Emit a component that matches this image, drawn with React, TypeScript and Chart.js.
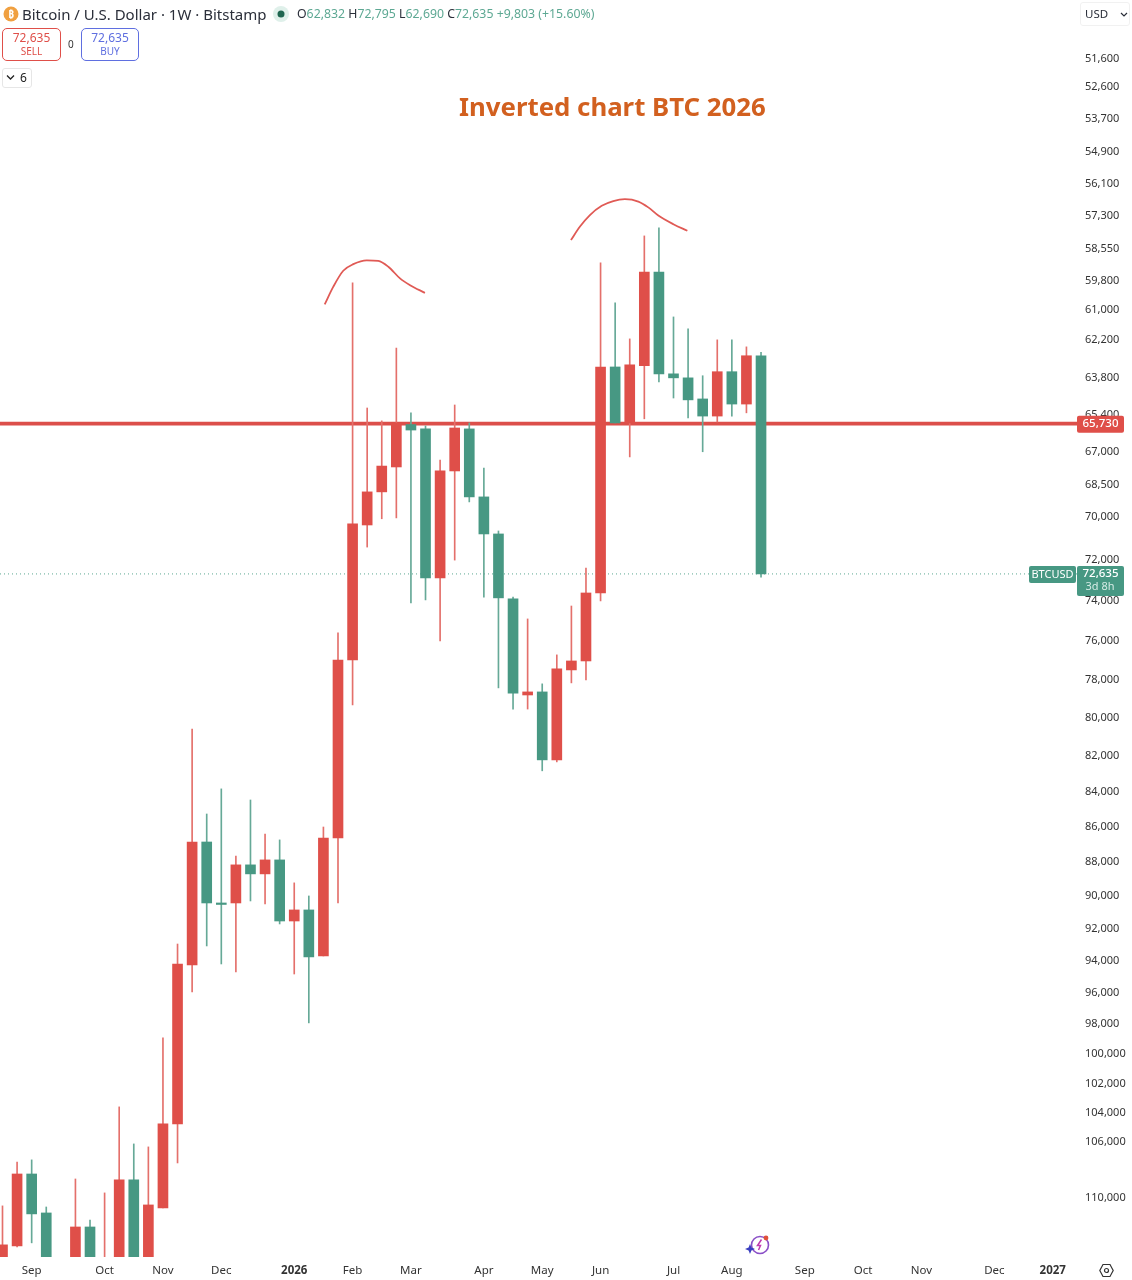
import React, { useEffect, useRef } from "react";
import { Chart, registerables } from "chart.js";

Chart.register(...registerables);

const FONT = '"Noto Sans", sans-serif';
const RED = "#df4f49";
const GREEN = "#479883";
const RED_WICK = "#e4706b";
const GREEN_WICK = "#66a997";

// Weekly BTCUSD candles, first week = 18 Aug 2025
const opens = [115000,113530,108230,111070,115000,116000,112110,118000,115000,108660,115200,110700,104690,94190,86800,90390,90390,88130,88660,87840,91480,90810,93630,86570,76910,70310,68780,67650,65770,65960,72830,67830,65960,69010,70730,73850,78720,78560,82190,77420,76960,73560,63300,65700,63250,59430,63590,63760,64660,65400,63500,64880,62832];
const highs = [115600,113605,113300,115800,117000,116400,116500,119000,116000,116000,116200,110700,107440,95890,93010,94130,94630,90270,90450,91660,94760,97890,93630,90390,79240,71350,70020,69980,74050,73900,75940,71970,69240,73760,78350,79460,79460,82790,82300,78090,77940,73950,65700,67200,65520,63930,64620,65480,66970,65660,65400,65260,72795];
const lows = [110550,107370,107220,110630,114700,108590,111590,109600,103510,106090,106300,98870,92890,80520,85200,83790,87610,84410,86340,86680,89190,89970,85940,75540,59860,65050,65610,62510,65260,65830,67340,64920,65700,67700,70590,73760,74840,78140,76650,74200,72350,59070,60660,62130,58020,57710,61230,61720,63670,62170,62170,62460,62690];
const closes = [113450,108230,111140,115200,116400,112110,116000,115000,108660,115200,110480,104690,94130,86800,90390,90450,88130,88660,87840,91480,90810,93690,86570,76910,70260,68780,67610,65700,66010,72830,67830,65920,69010,70730,73800,78620,78560,82190,77370,76960,73560,63300,65700,63210,59430,63590,63760,64700,65400,63500,64880,62830,72635];

const xMin = -0.171;
const xMax = 73.73;
const priceMin = 49600;
const priceMax = 114370;

const supportLevel = 65730;
const lastPrice = 72635;

const yTicks = [51600,52600,53700,54900,56100,57300,58550,59800,61000,62200,63800,65400,67000,68500,70000,72000,74000,76000,78000,80000,82000,84000,86000,88000,90000,92000,94000,96000,98000,100000,102000,104000,106000,110000];
const xTickIndex = [2,7,11,15,20,24,28,33,37,41,46,50,55,59,63,68,72];
const xTickLabels = ["Sep","Oct","Nov","Dec","2026","Feb","Mar","Apr","May","Jun","Jul","Aug","Sep","Oct","Nov","Dec","2027"];

const arc1X = [22.09,22.68,23.36,24.05,24.97,25.76,26.45,27.25,27.94,28.96];
const arc1Y = [60720,60010,59380,59120,58970,58990,59220,59680,59950,60260];
const arc2X = [38.97,39.59,40.27,41.08,41.87,42.67,43.59,44.27,44.96,45.99,46.95];
const arc2Y = [58180,57660,57220,56870,56690,56620,56710,56930,57240,57570,57820];

const fmt = (v: number) => Math.round(v).toLocaleString("en-US");

const priceTags = {
  id: "priceTags",
  afterDraw(chart: any) {
    const { ctx, scales } = chart;
    const y = scales.y;
    const tag = (x: number, top: number, w: number, h: number, color: string) => {
      ctx.fillStyle = color;
      ctx.beginPath();
      ctx.roundRect(x, top, w, h, 2);
      ctx.fill();
    };
    ctx.save();
    ctx.textBaseline = "middle";
    ctx.textAlign = "center";
    const yr = y.getPixelForValue(supportLevel);
    tag(1077, yr - 8, 47, 17, RED);
    ctx.fillStyle = "#fff";
    ctx.font = `500 11.5px ${FONT}`;
    ctx.fillText(fmt(supportLevel), 1100.5, yr);
    const yg = y.getPixelForValue(lastPrice);
    tag(1077, yg - 8, 47, 30, GREEN);
    tag(1029, yg - 8, 47, 17, GREEN);
    ctx.fillStyle = "#fff";
    ctx.fillText(fmt(lastPrice), 1100.5, yg);
    ctx.font = `400 11px ${FONT}`;
    ctx.fillText("BTCUSD", 1052.5, yg + 0.5);
    ctx.fillStyle = "#d5ebe5";
    ctx.fillText("3d 8h", 1100, yg + 13);
    ctx.restore();
  },
};

const abs = (left: number, top: number, extra: React.CSSProperties = {}): React.CSSProperties => ({
  position: "absolute",
  left,
  top,
  fontFamily: FONT,
  whiteSpace: "nowrap",
  ...extra,
});

function Header() {
  const g = { color: "#5da893" };
  return (
    <>
      <svg style={abs(3, 6)} width={16} height={16} viewBox="0 0 16 16">
        <circle cx="8" cy="8" r="7.5" fill="#f0a040" />
        <text x="8" y="11.5" fontSize="10" fontWeight="700" textAnchor="middle" fill="#fff" fontFamily={FONT}>₿</text>
      </svg>
      <div style={abs(22, 4, { fontSize: 15, lineHeight: "20px", color: "#2a2e39" })}>Bitcoin / U.S. Dollar · 1W · Bitstamp</div>
      <svg style={abs(272, 5)} width={18} height={18} viewBox="0 0 18 18">
        <circle cx="9" cy="9" r="8" fill="#dff0ea" />
        <circle cx="9" cy="9" r="3.5" fill="#1f6650" />
      </svg>
      <div style={abs(297, 5, { fontSize: 12.3, lineHeight: "18px", color: "#2a2e39" })}>
        O<span style={g}>62,832</span> H<span style={g}>72,795</span> L<span style={g}>62,690</span> C<span style={g}>72,635</span>{" "}
        <span style={g}>+9,803 (+15.60%)</span>
      </div>

      <div style={abs(2, 28, { width: 59, height: 33, boxSizing: "border-box", border: `1px solid ${RED}`, borderRadius: 5, textAlign: "center", color: RED, fontSize: 12, lineHeight: "14px", paddingTop: 2 })}>
        72,635<div style={{ fontSize: 10, lineHeight: "13px" }}>SELL</div>
      </div>
      <div style={abs(68, 37, { fontSize: 10, lineHeight: "14px", color: "#333" })}>0</div>
      <div style={abs(81, 28, { width: 58, height: 33, boxSizing: "border-box", border: "1px solid #5f6fe0", borderRadius: 5, textAlign: "center", color: "#5f6fe0", fontSize: 12, lineHeight: "14px", paddingTop: 2 })}>
        72,635<div style={{ fontSize: 10, lineHeight: "13px" }}>BUY</div>
      </div>
      <div style={abs(2, 68, { width: 30, height: 20, boxSizing: "border-box", border: "1px solid #e6e6e6", borderRadius: 3, fontSize: 12, lineHeight: "18px", color: "#222", paddingLeft: 17 })}>6</div>
      <svg style={abs(6, 74)} width={9} height={7} viewBox="0 0 9 7">
        <path d="M1 1.5 L4.5 5 L8 1.5" fill="none" stroke="#222" strokeWidth="1.3" />
      </svg>

      <div style={abs(459, 89, { fontSize: 25.8, lineHeight: "34px", fontWeight: 700, color: "#d2601f" })}>Inverted chart BTC 2026</div>

      <div style={abs(1080, 2, { width: 50, height: 24, boxSizing: "border-box", border: "1px solid #f1f1f1", borderRadius: 3 })} />
      <div style={abs(1085, 5, { fontSize: 11.5, lineHeight: "18px", color: "#2a2e39" })}>USD</div>
      <svg style={abs(1120, 12)} width={8} height={6} viewBox="0 0 8 6">
        <path d="M1 1 L4 4 L7 1" fill="none" stroke="#2a2e39" strokeWidth="1.2" />
      </svg>

      <svg style={abs(745, 1233)} width={28} height={24} viewBox="0 0 28 24">
        <circle cx="15" cy="12" r="8.5" fill="none" stroke="#8a4fc7" strokeWidth="1.6" />
        <path d="M16.5 6.5 L12.5 12.5 L15.5 12.5 L13.5 17" fill="none" stroke="#c03ab0" strokeWidth="1.5" />
        <path d="M5 11 L6.4 14.6 L10 16 L6.4 17.4 L5 21 L3.6 17.4 L0 16 L3.6 14.6 Z" fill="#3a3fc0" />
        <circle cx="21" cy="5" r="2.4" fill="#e0503a" />
      </svg>
      <svg style={abs(1099, 1263)} width={15} height={15} viewBox="0 0 15 15">
        <path d="M4 1.5 H11 L14.2 7.5 L11 13.5 H4 L0.8 7.5 Z" fill="none" stroke="#333" strokeWidth="1.2" />
        <circle cx="7.5" cy="7.5" r="2" fill="none" stroke="#333" strokeWidth="1.2" />
      </svg>
    </>
  );
}

export default function App() {
  const ref = useRef<HTMLCanvasElement>(null);

  useEffect(() => {
    document.body.style.margin = "0";
    const idx = opens.map((_, i) => i);
    const isUp = opens.map((o, i) => closes[i] >= o);
    const chart = new Chart(ref.current as HTMLCanvasElement, {
      type: "bar",
      data: {
        datasets: [
          {
            type: "line",
            label: "Top 1",
            data: arc1X.map((x, i) => ({ x, y: arc1Y[i] })),
            borderColor: "#e05a55",
            borderWidth: 1.8,
            pointRadius: 0,
            cubicInterpolationMode: "monotone",
            order: 0,
          },
          {
            type: "line",
            label: "Top 2",
            data: arc2X.map((x, i) => ({ x, y: arc2Y[i] })),
            borderColor: "#e05a55",
            borderWidth: 1.8,
            pointRadius: 0,
            cubicInterpolationMode: "monotone",
            order: 0,
          },
          {
            label: "Body",
            data: idx.map((i) => ({ x: i, y: [opens[i], closes[i]] })),
            backgroundColor: isUp.map((u) => (u ? GREEN : RED)),
            barThickness: 10,
            minBarLength: 1.5,
            grouped: false,
            order: 1,
          },
          {
            label: "Wick",
            data: idx.map((i) => ({ x: i, y: [lows[i], highs[i]] })),
            backgroundColor: isUp.map((u) => (u ? GREEN_WICK : RED_WICK)),
            barThickness: 1,
            grouped: false,
            order: 2,
          },
          {
            type: "line",
            label: "Support",
            data: [{ x: xMin, y: supportLevel }, { x: xMax, y: supportLevel }],
            borderColor: "#dc4f4a",
            borderWidth: 3.6,
            pointRadius: 0,
            order: 3,
          },
          {
            type: "line",
            label: "Last",
            data: [{ x: xMin, y: lastPrice }, { x: xMax, y: lastPrice }],
            borderColor: "#5da893",
            borderWidth: 1,
            borderDash: [1, 3],
            pointRadius: 0,
            order: 3,
          },
        ] as any,
      },
      options: {
        animation: false,
        responsive: false,
        devicePixelRatio: 1,
        layout: { padding: 0, autoPadding: false },
        plugins: { legend: { display: false }, tooltip: { enabled: false }, title: { display: false } },
        scales: {
          x: {
            type: "linear",
            min: xMin,
            max: xMax,
            offset: false,
            grid: { display: false, drawTicks: false },
            border: { display: false },
            afterBuildTicks: (s: any) => {
              s.ticks = xTickIndex.map((value) => ({ value }));
            },
            afterFit: (s: any) => {
              s.height = 23;
              s.paddingLeft = 0;
              s.paddingRight = 0;
            },
            ticks: {
              autoSkip: false,
              maxRotation: 0,
              padding: 7,
              color: "#333",
              font: (c: any) => ({
                family: FONT,
                size: 11.5,
                weight: /^\d/.test(xTickLabels[xTickIndex.indexOf(c.tick?.value)] || "") ? 700 : 400,
              }),
              callback: (v: any) => xTickLabels[xTickIndex.indexOf(v)],
            },
          },
          y: {
            type: "logarithmic",
            position: "right",
            reverse: true,
            min: priceMin,
            max: priceMax,
            grid: { display: false, drawTicks: false },
            border: { display: false },
            afterBuildTicks: (s: any) => {
              s.ticks = yTicks.map((value) => ({ value }));
            },
            afterFit: (s: any) => {
              s.width = 54;
              s.paddingTop = 0;
              s.paddingBottom = 0;
            },
            ticks: {
              autoSkip: false,
              crossAlign: "near",
              padding: 7,
              labelOffset: -1,
              color: "#333",
              font: { family: FONT, size: 11 },
              callback: (v: any) => fmt(Number(v)),
            },
          },
        },
      } as any,
      plugins: [priceTags],
    });
    return () => chart.destroy();
  }, []);

  return (
    <div style={{ position: "relative", width: 1132, height: 1280, overflow: "hidden", background: "#fff" }}>
      <canvas ref={ref} width={1132} height={1280} style={{ display: "block" }} />
      <Header />
    </div>
  );
}
